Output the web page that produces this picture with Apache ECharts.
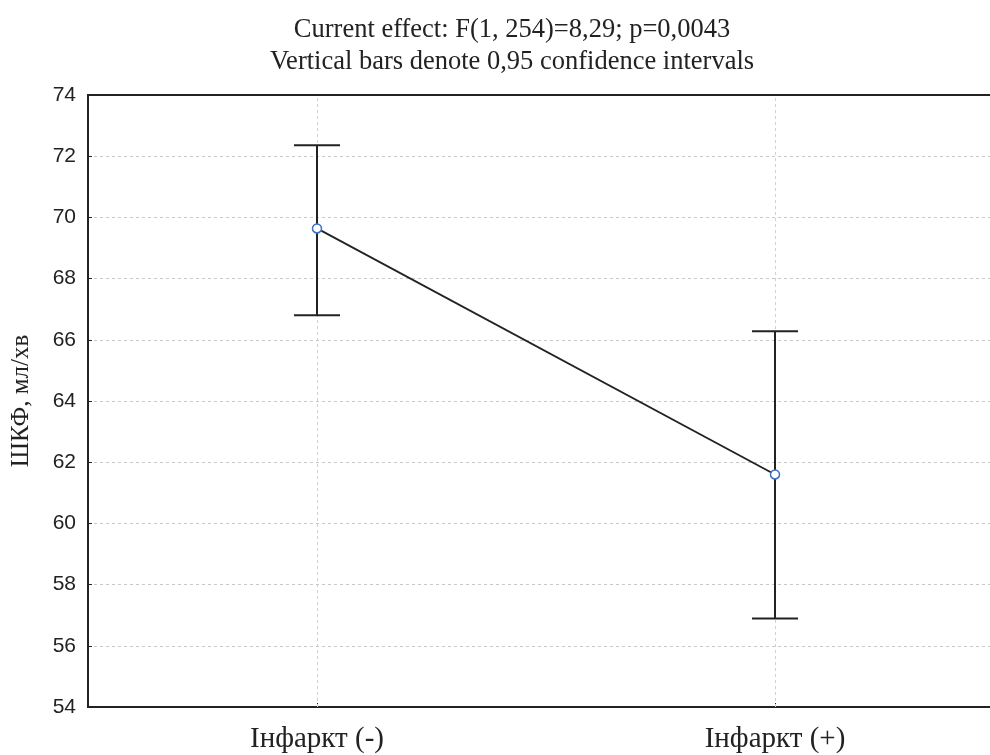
<!DOCTYPE html>
<html>
<head>
<meta charset="utf-8">
<script src="https://cdn.jsdelivr.net/npm/echarts@6/dist/echarts.min.js"></script>
<style>html,body{margin:0;padding:0;background:#fff}#c{width:990px;height:755px}</style>
</head>
<body>
<div id="c"></div>
<script>
const categories = ['Інфаркт (-)', 'Інфаркт (+)'];
const means = [69.64, 61.6];
const lower = [66.8, 56.89];
const upper = [72.36, 66.28];
const yTicks = { min: 54, max: 74, interval: 2 };
const titleLines = ['Current effect: F(1, 254)=8,29; p=0,0043', 'Vertical bars denote 0,95 confidence intervals'];
const yName = 'ШКФ, мл/хв';

const chart = echarts.init(document.getElementById('c'), null, { renderer: 'canvas' });
const ink = '#222';
chart.setOption({
  animation: false,
  backgroundColor: '#fff',
  title: {
    text: titleLines.join('\n'),
    left: 507, top: 9, textAlign: 'center',
    textStyle: { fontFamily: 'Liberation Serif', fontSize: 26.5, fontWeight: 'normal', color: ink, lineHeight: 32 }
  },
  grid: { left: 88, right: -14, top: 95, bottom: 48, show: true, borderColor: ink, borderWidth: 2, backgroundColor: 'transparent', containLabel: false, outerBoundsMode: 'none' },
  xAxis: {
    type: 'category', data: categories, boundaryGap: true,
    axisLine: { lineStyle: { color: ink, width: 2 } },
    axisTick: { show: true, alignWithLabel: true, inside: true, length: 4, lineStyle: { color: ink, width: 1 } },
    axisLabel: { fontFamily: 'Liberation Serif', fontSize: 29, color: ink, margin: 18 },
    splitLine: { show: false }
  },
  yAxis: {
    type: 'value', min: yTicks.min, max: yTicks.max, interval: yTicks.interval,
    name: yName, nameLocation: 'middle', nameGap: 54, nameRotate: 90,
    nameTextStyle: { fontFamily: 'Liberation Serif', fontSize: 25, color: ink },
    axisLine: { show: true, lineStyle: { color: ink, width: 2 } },
    axisTick: { show: true, inside: true, length: 4, lineStyle: { color: ink, width: 1 } },
    axisLabel: { fontFamily: 'Liberation Sans', fontSize: 21, color: ink, margin: 12 },
    splitLine: { show: true, showMinLine: false, showMaxLine: false, lineStyle: { color: '#c8c8c8', type: [3, 3], width: 1 } }
  },
  series: [
    {
      type: 'custom',
      z: 3,
      data: categories.map((c, i) => [i, lower[i], upper[i]]),
      renderItem: function (params, api) {
        const x = api.value(0);
        const lo = api.coord([x, api.value(1)]);
        const hi = api.coord([x, api.value(2)]);
        const hw = 23;
        const st = { stroke: ink, lineWidth: 2 };
        return {
          type: 'group',
          children: [
            { type: 'line', shape: { x1: lo[0], y1: lo[1], x2: hi[0], y2: hi[1] }, style: st },
            { type: 'line', shape: { x1: hi[0] - hw, y1: hi[1], x2: hi[0] + hw, y2: hi[1] }, style: st },
            { type: 'line', shape: { x1: lo[0] - hw, y1: lo[1], x2: lo[0] + hw, y2: lo[1] }, style: st }
          ]
        };
      },
      silent: true
    },
    {
      type: 'line',
      z: 4,
      data: means,
      symbol: 'circle', symbolSize: 9,
      itemStyle: { color: '#fff', borderColor: '#3f6fc6', borderWidth: 1.5 },
      lineStyle: { color: ink, width: 1.8 },
      markLine: {
        silent: true, symbol: 'none', label: { show: false }, z: 1,
        lineStyle: { color: '#d0d0d0', type: [3, 3], width: 1 },
        data: categories.map(c => ({ xAxis: c }))
      }
    }
  ]
});
</script>
</body>
</html>
